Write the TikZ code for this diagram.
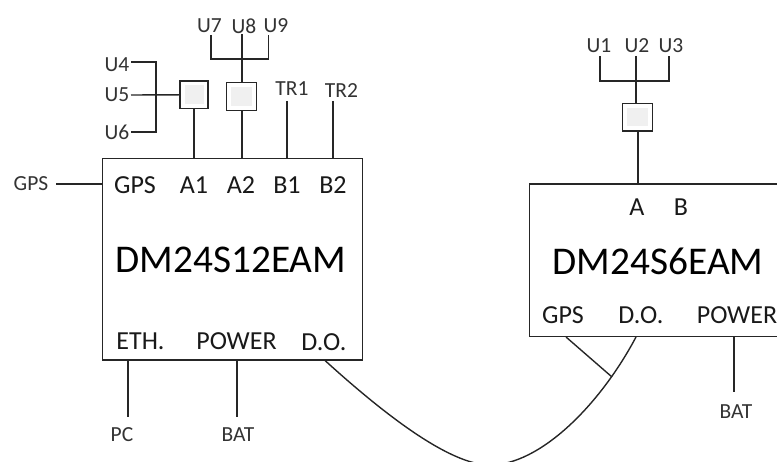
\documentclass[tikz,border=0pt]{standalone}
\usepackage{fontspec}
\setmainfont{Carlito}
\definecolor{lbl}{HTML}{333333}
\definecolor{inner}{HTML}{F0F0F0}
\tikzset{
  wire/.style={draw=black!85, line width=1.4pt},
  mainbox/.style={draw=black!85, line width=1.4pt, fill=white, inner sep=0pt, minimum width=260pt, minimum height=201.5pt},
  sq/.style={draw=black!85, line width=1.4pt, fill=white, inner sep=0pt,
    path picture={\fill[inner] ([shift={(4.5pt,4.5pt)}]path picture bounding box.south west) rectangle ([shift={(-4.5pt,-4.5pt)}]path picture bounding box.north east);}},
  small/.style={inner sep=0pt, text=lbl, font=\fontsize{21.5}{24}\selectfont},
  port/.style={inner sep=0pt, text=black!90, font=\fontsize{26}{30}\selectfont},
  title/.style={inner sep=0pt, text=black, font=\fontsize{39.3}{44}\selectfont},
}
\begin{document}
\begin{tikzpicture}[x=1pt,y=-1pt]
\useasboundingbox (0,0) rectangle (777,462);
\clip (0,0) rectangle (777,462);
% main boxes
\node[mainbox] (mainL) at (232.7,259.4) {};
\coordinate (rTL) at (529.3,184);
\coordinate (rBL) at (529.3,336.7);
\coordinate (rTR) at (780,184);
\coordinate (rBR) at (780,336.7);
\draw[wire] (rTR) -- (rTL) -- (rBL) -- (rBR);
% small boxes
\node[sq, minimum width=28pt, minimum height=27.7pt] (sq1) at (194,94.8) {};
\node[sq, minimum width=30pt, minimum height=27.7pt] (sq2) at (241.3,96.5) {};
\node[sq, minimum width=30pt, minimum height=27.7pt] (sq3) at (637.3,117.1) {};
% labels left
\node[small] (gpsIn) at (31,184) {GPS};
\node[small] (u4) at (117,65) {U4};
\node[small] (u5) at (117,95) {U5};
\node[small] (u6) at (117,132) {U6};
\node[small] (u7) at (209.5,26) {U7};
\node[small] (u8) at (244,26) {U8};
\node[small] (u9) at (276,26) {U9};
\node[small] (tr1) at (292,89) {TR1};
\node[small] (tr2) at (341.5,91) {TR2};
\node[port] (pGps) at (135,185) {GPS};
\node[port] (pA1) at (194,185) {A1};
\node[port] (pA2) at (241,185) {A2};
\node[port] (pB1) at (287,185) {B1};
\node[port] (pB2) at (333,185) {B2};
\node[title] (nameL) at (231,260) {DM24S12EAM};
\node[port] (pEth) at (140.5,341) {ETH.};
\node[port] (pPow) at (236.5,341) {POWER};
\node[port] (pDo) at (324,342) {D.O.};
\node[small] (pc) at (122,435) {PC};
\node[small] (batL) at (238,435) {BAT};
% labels right
\node[small] (u1) at (599,46) {U1};
\node[small] (u2) at (637,46) {U2};
\node[small] (u3) at (671,46) {U3};
\node[port] (rA) at (637,207) {A};
\node[port] (rB) at (681,207) {B};
\node[title] (nameR) at (658,261) {DM24S6EAM};
\node[port] (rGps) at (563,315) {GPS};
\node[port] (rDo) at (641,315) {D.O.};
\node[port] (rPow) at (737,315) {POWER};
\node[small] (batR) at (736,412) {BAT};
% free wire ends
\coordinate (u4e) at (131,62);
\coordinate (u4c) at (156,62);
\coordinate (u6e) at (131,132);
\coordinate (u6c) at (156,132);
\coordinate (u5e) at (131,95);
\coordinate (u7e) at (211,35);
\coordinate (u7c) at (211,59);
\coordinate (u9e) at (268.5,35);
\coordinate (u9c) at (268.5,59);
\coordinate (u8e) at (242,34);
\coordinate (tr1e) at (287,101);
\coordinate (tr1b) at (287,158.7);
\coordinate (tr2e) at (333,101);
\coordinate (tr2b) at (333,158.7);
\coordinate (gpsE) at (56,184);
\coordinate (gpsB) at (102.7,184);
\coordinate (a1b) at (194,158.7);
\coordinate (a2b) at (242,158.7);
\coordinate (ethB) at (128,360);
\coordinate (ethE) at (128,417);
\coordinate (powB) at (237,360);
\coordinate (powE) at (237,417);
\coordinate (doL) at (325,360.5);
\coordinate (low) at (490,465);
\coordinate (doR) at (636,337);
\coordinate (join) at (612,377);
\coordinate (gpsR) at (566,337);
\coordinate (powR) at (734,336.7);
\coordinate (powRe) at (734,392);
\coordinate (u1e) at (600,56);
\coordinate (u1c) at (600,81);
\coordinate (u3e) at (669,56);
\coordinate (u3c) at (669,81);
\coordinate (u2e) at (636,56);
\coordinate (u2b) at (636,103.3);
\coordinate (aT) at (638,184);
\coordinate (sq3b) at (638,131);
% wires
\draw[wire] (u4e) -- (u4c) -- (u6c) -- (u6e);
\draw[wire] (u5e) -- (sq1.west);
\draw[wire] (sq1.south) -- (a1b);
\draw[wire] (u7e) -- (u7c) -- (u9c) -- (u9e);
\draw[wire] (u8e) -- (u8e |- sq2.north);
\draw[wire] (sq2.south -| a2b) -- (a2b);
\draw[wire] (tr1e) -- (tr1b);
\draw[wire] (tr2e) -- (tr2b);
\draw[wire] (gpsE) -- (gpsB);
\draw[wire] (ethB) -- (ethE);
\draw[wire] (powB) -- (powE);
\draw[wire] (u1e) -- (u1c) -- (u3c) -- (u3e);
\draw[wire] (u2e) -- (u2b);
\draw[wire] (sq3b) -- (aT);
\draw[wire] (powR) -- (powRe);
\draw[wire] (gpsR) -- (join);
\draw[wire] (doL) .. controls (385,415) and (450,465) .. (low) .. controls (540,465) and (600,405) .. (doR);
\end{tikzpicture}
\end{document}
